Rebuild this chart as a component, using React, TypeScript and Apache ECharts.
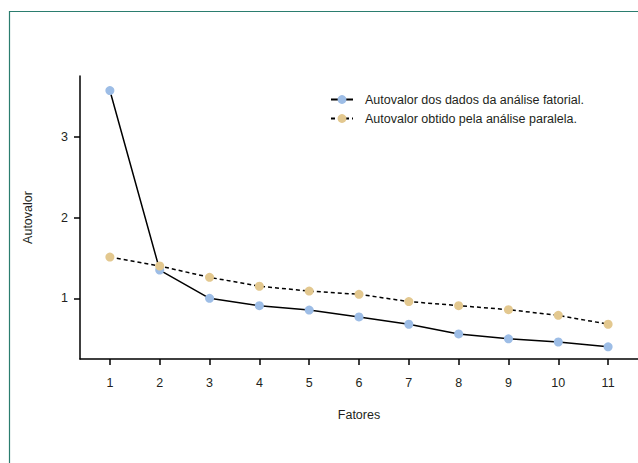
import React, { useEffect, useRef } from "react";
import * as echarts from "echarts";

const fatores = [1, 2, 3, 4, 5, 6, 7, 8, 9, 10, 11];
const autovalorFatorial = [3.57, 1.35, 1.0, 0.91, 0.855, 0.77, 0.68, 0.56, 0.5, 0.46, 0.4];
const autovalorParalela = [1.51, 1.4, 1.26, 1.15, 1.09, 1.05, 0.96, 0.91, 0.86, 0.79, 0.68];
const yTicks = [1, 2, 3];
const seriesNames = [
  "Autovalor dos dados da análise fatorial.",
  "Autovalor obtido pela análise paralela.",
];

const FONT = "'Liberation Sans', Arial, sans-serif";
const TXT = "#231f20";
const FS = 12.5;

export default function App() {
  const ref = useRef<HTMLDivElement>(null);
  useEffect(() => {
    if (!ref.current) return;
    const chart = echarts.init(ref.current, null, { renderer: "svg" });
    chart.setOption({
      animation: false,
      backgroundColor: "#ffffff",
      textStyle: { fontFamily: FONT, color: TXT },
      graphic: [
        {
          type: "rect",
          shape: { x: 9.5, y: 11.5, width: 700, height: 500 },
          style: { fill: "none", stroke: "#2b7d6f", lineWidth: 1.2 },
          silent: true,
        },
      ],
      legend: {
        left: 330,
        top: 93,
        padding: 0,
        orient: "vertical",
        itemWidth: 22,
        itemHeight: 11,
        itemGap: 6,
        textStyle: { fontFamily: FONT, fontSize: FS, color: TXT, padding: [0, 0, 0, 7] },
        data: seriesNames,
      },
      grid: { left: 80, right: 0, top: 76, bottom: 104, containLabel: false },
      xAxis: {
        type: "value",
        min: 0.4,
        max: 11.6,
        name: "Fatores",
        nameLocation: "middle",
        nameGap: 49,
        nameTextStyle: { fontFamily: FONT, fontSize: FS, color: TXT },
        axisLine: { lineStyle: { color: "#000", width: 1.5 } },
        axisTick: { show: true, length: 6, lineStyle: { color: "#000", width: 1.5 }, customValues: fatores },
        axisLabel: { customValues: fatores, fontFamily: FONT, fontSize: FS, color: TXT, margin: 17 },
        splitLine: { show: false },
      },
      yAxis: {
        type: "value",
        min: 0.25,
        max: 3.75,
        name: "Autovalor",
        nameLocation: "middle",
        nameGap: 46,
        nameTextStyle: { fontFamily: FONT, fontSize: FS, color: TXT },
        axisLine: { show: true, lineStyle: { color: "#000", width: 1.5 } },
        axisTick: { show: true, length: 6, lineStyle: { color: "#000", width: 1.5 }, customValues: yTicks },
        axisLabel: { customValues: yTicks, fontFamily: FONT, fontSize: FS, color: TXT, margin: 12 },
        splitLine: { show: false },
      },
      series: [
        {
          name: seriesNames[0],
          type: "line",
          data: fatores.map((f, i) => [f, autovalorFatorial[i]]),
          symbol: "circle",
          symbolSize: 9,
          itemStyle: { color: "#9dbde6" },
          lineStyle: { color: "#000", width: 1.5 },
          z: 3,
        },
        {
          name: seriesNames[1],
          type: "line",
          data: fatores.map((f, i) => [f, autovalorParalela[i]]),
          symbol: "circle",
          symbolSize: 9,
          itemStyle: { color: "#e3c88f" },
          lineStyle: { color: "#000", width: 1.5, type: [4, 3] },
          z: 4,
        },
      ],
    });
    return () => chart.dispose();
  }, []);
  return (
    <div
      ref={ref}
      style={{ position: "fixed", left: 0, top: 0, width: 638, height: 463 }}
    />
  );
}
